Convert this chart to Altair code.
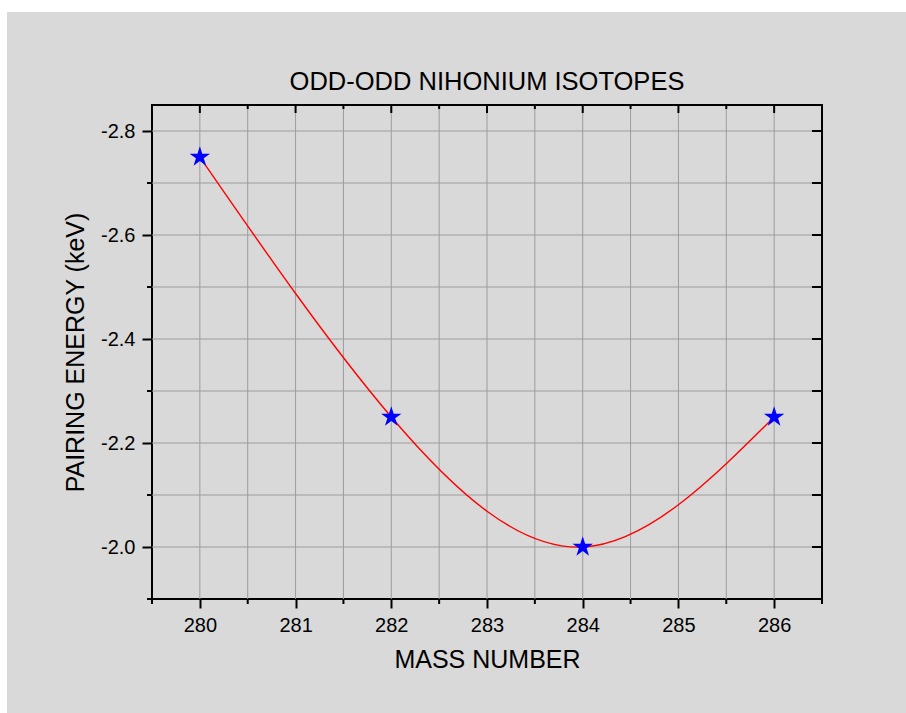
import altair as alt
import pandas as pd

# ---- data ----
mass = [280, 282, 284, 286]
energy = [-2.75, -2.25, -2.0, -2.25]

x_major = [280, 281, 282, 283, 284, 285, 286]
x_minor = [279.5, 280.5, 281.5, 282.5, 283.5, 284.5, 285.5, 286.5]
x_grid = [280, 280.5, 281, 281.5, 282, 282.5, 283, 283.5, 284, 284.5, 285, 285.5, 286]

y_major = [-2.8, -2.6, -2.4, -2.2, -2.0]
y_minor = [-2.7, -2.5, -2.3, -2.1, -1.9]
y_grid = [-2.8, -2.7, -2.6, -2.5, -2.4, -2.3, -2.2, -2.1, -2.0]

title_text = "ODD-ODD NIHONIUM ISOTOPES"
x_title = "MASS NUMBER"
y_title = "PAIRING ENERGY (keV)"

FONT = "Liberation Sans"
W, H = 670, 494
BG = "#d9d9d9"
GRID = "#9c9c9c"

# five-pointed star outline (unit symbol shape)
STAR = ("M0,-1L0.2245,-0.309L0.951,-0.309L0.363,0.118L0.588,0.809L0,0.382"
        "L-0.588,0.809L-0.363,0.118L-0.951,-0.309L-0.2245,-0.309Z")

xs = alt.Scale(domain=[279.5, 286.5], nice=False, zero=False)
ys = alt.Scale(domain=[-2.85, -1.9], reverse=True, nice=False, zero=False)

label_expr = "datum.value < 0 ? '-' + format(-datum.value, '.1f') : format(datum.value, '.1f')"

x_axis = alt.Axis(
    values=x_major,
    format="d",
    tickSize=9,
    tickWidth=2,
    tickColor="black",
    domain=False,
    grid=False,
    labelFont=FONT,
    labelFontSize=20,
    labelColor="black",
    labelPadding=7,
    title=x_title,
    titleFont=FONT,
    titleFontSize=25,
    titleFontWeight="normal",
    titleColor="black",
    titlePadding=12,
)
y_axis = alt.Axis(
    values=y_major,
    labelExpr=label_expr,
    tickSize=10,
    tickWidth=2,
    tickColor="black",
    domain=False,
    grid=False,
    labelFont=FONT,
    labelFontSize=20,
    labelColor="black",
    labelPadding=7,
    title=y_title,
    titleFont=FONT,
    titleFontSize=25,
    titleFontWeight="normal",
    titleColor="black",
    titlePadding=12,
)


def df(vals):
    return pd.DataFrame({"v": vals})


def xrule(vals, y0, y1, color="black", sw=2):
    return alt.Chart(df(vals)).mark_rule(color=color, strokeWidth=sw).encode(
        x=alt.X("v:Q", scale=xs, axis=x_axis), y=alt.value(y0), y2=alt.value(y1)
    )


def yrule(vals, x0, x1, color="black", sw=2):
    return alt.Chart(df(vals)).mark_rule(color=color, strokeWidth=sw).encode(
        y=alt.Y("v:Q", scale=ys, axis=y_axis), x=alt.value(x0), x2=alt.value(x1)
    )


# white border strips of the original image (decoration)
strip_top = alt.Chart().mark_rect(color="white").encode(
    x=alt.value(-152), x2=alt.value(W + 84), y=alt.value(-105), y2=alt.value(-93)
)
strip_left = alt.Chart().mark_rect(color="white").encode(
    x=alt.value(-152), x2=alt.value(-145), y=alt.value(-105), y2=alt.value(H + 114)
)

grid_x = xrule(x_grid, 0, H, GRID, 1)
grid_y = yrule(y_grid, 0, W, GRID, 1)

minor_bottom = xrule(x_minor, H, H + 5)
minor_left = yrule(y_minor, -5, 0)
top_major = xrule(x_major, 0, 8)
top_minor = xrule(x_minor, 0, 4)
right_ticks = yrule(y_major + y_minor, W - 10, W)

pts = pd.DataFrame({"mass": mass, "energy": energy})
base = alt.Chart(pts).encode(
    x=alt.X("mass:Q", scale=xs, axis=x_axis),
    y=alt.Y("energy:Q", scale=ys, axis=y_axis),
)

line = base.mark_line(color="#ff0000", strokeWidth=1.4, interpolate="natural")
stars = base.mark_point(
    shape=STAR, filled=True, fill="#0000ff", strokeWidth=0, size=460, opacity=1
)

title = alt.Chart().mark_text(
    text=title_text,
    font=FONT,
    fontSize=25.5,
    color="black",
    align="center",
    baseline="alphabetic",
).encode(x=alt.value(W / 2), y=alt.value(-15))

chart = (
    alt.layer(
        strip_top,
        strip_left,
        grid_x,
        grid_y,
        minor_bottom,
        minor_left,
        top_major,
        top_minor,
        right_ticks,
        line,
        stars,
        title,
    )
    .properties(
        width=W,
        height=H,
        autosize=alt.AutoSizeParams(type="none"),
        padding={"left": 152, "top": 105, "right": 84, "bottom": 114},
        background=BG,
    )
    .configure_view(stroke="black", strokeWidth=2)
)

chart.save("out.html", embed_options={"renderer": "svg", "actions": False})
